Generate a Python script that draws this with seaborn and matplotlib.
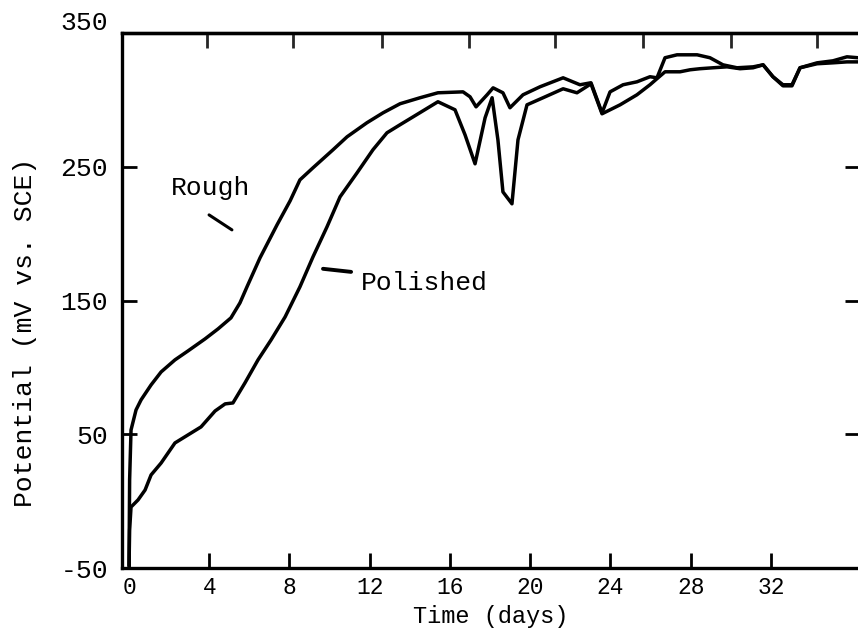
import numpy as np
import pandas as pd
import matplotlib
matplotlib.use("Agg")
import matplotlib.pyplot as plt
import matplotlib.transforms as mtransforms
import seaborn as sns

# ---- data ----
rough_days = [0.0, 0.03, 0.10, 0.35, 0.60, 1.10, 1.60, 2.29, 2.94, 3.79, 4.44, 5.08,
              5.53, 5.88, 6.53, 7.38, 8.03, 8.52, 9.17, 10.17, 10.87, 11.86, 12.66,
              13.51, 14.51, 15.40, 16.65, 17.00, 17.30, 17.85, 18.15, 18.64, 18.99,
              19.64, 20.49, 21.64, 22.48, 23.03, 23.58, 23.98, 24.63, 25.32, 25.97,
              26.32, 26.72, 27.32, 28.32, 28.96, 29.61, 30.31, 31.11, 31.61, 32.10,
              32.60, 33.05, 33.45, 34.30, 35.09, 35.79, 36.34]
rough_mv = [-48, 16, 53.2, 68.2, 75.7, 86.9, 96.6, 105.6, 112.3, 121.3, 128.8, 137.0,
            148.2, 160.2, 181.9, 206.6, 224.5, 240.2, 249.2, 262.7, 272.4, 282.9, 290.3,
            297.1, 301.6, 305.3, 306.0, 302.3, 294.8, 303.8, 309.0, 305.3, 294.1,
            303.8, 309.8, 316.5, 311.3, 312.8, 290.3, 306.0, 311.3, 313.5, 317.3,
            316.5, 331.5, 333.7, 333.7, 331.5, 326.2, 324.0, 324.7, 326.2, 317.3,
            311.3, 311.3, 324.0, 327.7, 329.2, 332.2, 331.5]

polished_days = [0.0, 0.03, 0.10, 0.45, 0.80, 1.10, 1.60, 2.29, 2.94, 3.59, 4.29, 4.79,
                 5.18, 5.78, 6.43, 7.08, 7.78, 8.52, 9.17, 9.87, 10.52, 11.37, 12.16,
                 12.86, 13.51, 14.16, 15.40, 16.25, 16.75, 17.25, 17.75, 18.10, 18.39,
                 18.64, 19.09, 19.39, 19.84, 20.64, 21.64, 22.33, 23.03, 23.58, 24.48,
                 25.32, 25.97, 26.37, 26.72, 27.47, 27.97, 28.46, 29.11, 29.81, 30.46,
                 31.11, 31.61, 32.10, 32.60, 33.05, 33.45, 34.30, 35.09, 35.79, 36.34]
polished_mv = [-49, -21.6, -4.4, 0.9, 8.3, 19.6, 28.5, 43.5, 49.5, 55.5, 67.4, 72.7,
               73.4, 88.4, 105.6, 120.5, 137.7, 160.2, 182.6, 205.1, 227.5, 245.5, 262.7,
               275.4, 281.4, 287.3, 298.6, 292.6, 273.9, 252.2, 286.6, 301.6, 270.1,
               231.2, 222.3, 270.1, 296.3, 301.6, 308.3, 305.3, 312.0, 289.6, 296.3,
               303.8, 311.3, 316.5, 321.0, 321.0, 322.5, 323.3, 324.0, 324.7, 323.3,
               324.0, 326.2, 317.3, 310.5, 310.5, 324.0, 327.0, 327.7, 328.4, 328.4]

x_ticks = [0, 4, 8, 12, 16, 20, 24, 28, 32]
y_ticks = [-50, 50, 150, 250, 350]

df = pd.concat([
    pd.DataFrame({"day": rough_days, "mv": rough_mv, "surface": "Rough"}),
    pd.DataFrame({"day": polished_days, "mv": polished_mv, "surface": "Polished"}),
], ignore_index=True)

# ---- style ----
sns.set_style("white")
plt.rcParams["font.family"] = ["Liberation Mono", "DejaVu Sans Mono"]

W, H = 858, 639
fig = plt.figure(figsize=(W / 100, H / 100), dpi=100)
ax = fig.add_axes([122 / W, 1 - 568 / H, (860 - 122) / W, (568 - 33) / H])

sns.lineplot(data=df, x="day", y="mv", hue="surface",
             palette={"Rough": "black", "Polished": "black"},
             estimator=None, sort=False, legend=False, lw=2.5, ax=ax)

ax.set_xlim(-0.35, 36.44)
ax.set_ylim(-50, 350)
ax.set_xticks(x_ticks)
ax.set_yticks(y_ticks)
ax.set_xticklabels([str(t) for t in x_ticks])
ax.set_yticklabels([str(t) for t in y_ticks])

for s in ax.spines.values():
    s.set_visible(True)
    s.set_color("black")
    s.set_linewidth(2.4)

ax.tick_params(axis="x", direction="in", length=11, width=2.0, labelsize=16.5,
               pad=6, colors="black", bottom=True, top=False)
ax.tick_params(axis="y", direction="in", length=11, width=2.0, labelsize=19,
               pad=10, colors="black", left=True, right=True)

# the typed "350" sits a little above its tick in the reference
lab350 = ax.get_yticklabels()[-1]
lab350.set_transform(lab350.get_transform() +
                     mtransforms.ScaledTranslation(0, 0.12, fig.dpi_scale_trans))

# top ticks (hand drawn, slightly different spacing)
sec = ax.secondary_xaxis("top")
sec.set_xticks([3.89, 8.18, 12.61, 16.95, 21.24, 25.62, 30.01, 34.30])
sec.tick_params(direction="in", length=11, width=2.0, labeltop=False)
sec.spines["top"].set_linewidth(2.4)

ax.set_xlabel("Time (days)", fontsize=17, color="black", labelpad=4)
ax.set_ylabel("Potential (mV vs. SCE)", fontsize=19, color="black")
ax.yaxis.set_label_coords(-0.131, 0.44)
ax.yaxis.label.set_va("center")

# annotations
ax.text(4.04, 229, "Rough", fontsize=19, ha="center", va="baseline", color="black")
ax.plot([3.99, 5.13], [214, 202.8], color="black", lw=2.2)
ax.text(11.55, 158, "Polished", fontsize=19, ha="left", va="baseline", color="black")
ax.plot([9.67, 11.07], [173.7, 171.4], color="black", lw=2.8)

fig.savefig("out.png", dpi=100)
